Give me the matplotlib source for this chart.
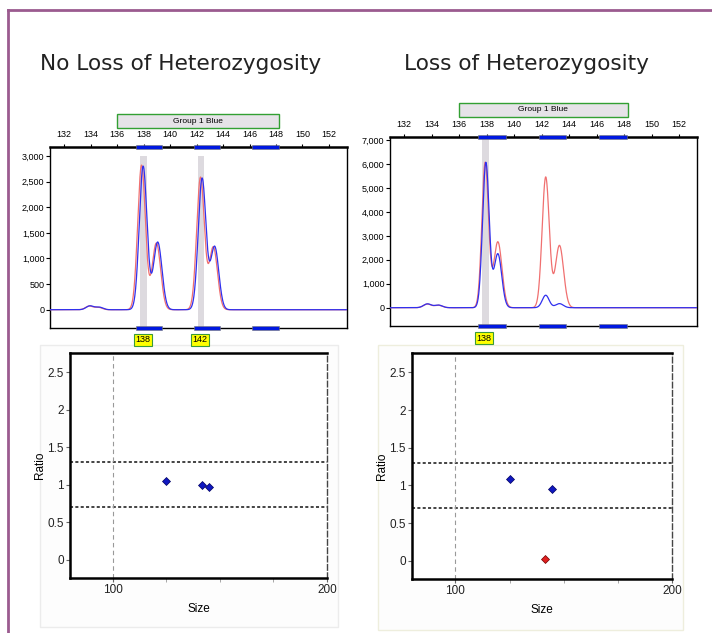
import numpy as np
import matplotlib
matplotlib.use("Agg")
import matplotlib.pyplot as plt
import matplotlib.transforms as mtransforms
from matplotlib.patches import Rectangle
from matplotlib.lines import Line2D

W, H = 712, 633

# ---- data ----
titles = ["No Loss of Heterozygosity", "Loss of Heterozygosity"]
size_ticks = [132, 134, 136, 138, 140, 142, 144, 146, 148, 150, 152]

# peaks: (size, height, width) for each dye trace
left_red_peaks = [(133.9, 70, 0.28), (134.6, 45, 0.28),
                  (137.85, 2820, 0.29), (138.97, 1300, 0.32),
                  (142.3, 2580, 0.29), (143.27, 1220, 0.31)]
left_blue_peaks = [(133.95, 75, 0.28), (134.65, 50, 0.28),
                   (137.97, 2800, 0.29), (139.07, 1320, 0.32),
                   (142.42, 2560, 0.29), (143.37, 1230, 0.31)]
right_red_peaks = [(133.7, 150, 0.28), (134.5, 100, 0.28),
                   (137.9, 6050, 0.24), (138.82, 2750, 0.3),
                   (142.3, 5450, 0.26), (143.3, 2600, 0.3)]
right_blue_peaks = [(133.7, 160, 0.28), (134.5, 110, 0.28),
                    (137.95, 6050, 0.24), (138.82, 2250, 0.28),
                    (142.3, 520, 0.25), (143.3, 170, 0.28)]

left_yticks = [0, 500, 1000, 1500, 2000, 2500, 3000]
left_yticklabels = ["0", "500", "1,000", "1,500", "2,000", "2,500", "3,000"]
right_yticks = [0, 1000, 2000, 3000, 4000, 5000, 6000, 7000]
right_yticklabels = ["0", "1,000", "2,000", "3,000", "4,000", "5,000", "6,000", "7,000"]

bins = [(137.4, 139.4), (141.8, 143.8), (146.2, 148.2)]
left_called = [137.96, 142.26]
left_called_labels = ["138", "142"]
left_bands = [(137.75, 138.25), (142.1, 142.6)]
right_called = [137.8]
right_called_labels = ["138"]
right_bands = [(137.7, 138.2)]
group_span = (136.0, 148.25)

left_sizes = [125, 141.8, 145]
left_ratios = [1.05, 1.0, 0.97]
right_sizes = [125, 144.7]
right_ratios = [1.09, 0.95]
right_loh_sizes = [141.6]
right_loh_ratios = [0.02]
ratio_ticks = [0, 0.5, 1, 1.5, 2, 2.5]
ratio_ticklabels = ["0", "0.5", "1", "1.5", "2", "2.5"]

NARROW = ["Liberation Sans Narrow", "Liberation Sans", "DejaVu Sans"]

fig = plt.figure(figsize=(W / 100, H / 100), dpi=100)


def box(x0, y0, x1, y1):
    return [x0 / W, 1 - y1 / H, (x1 - x0) / W, (y1 - y0) / H]


def trace(peaks, x):
    y = np.zeros_like(x)
    for c, h, s in peaks:
        y += h * np.exp(-0.5 * ((x - c) / s) ** 2)
    return y


# figure border and panel backgrounds
fig.add_artist(Line2D([8 / W, 1], [1 - 10 / H, 1 - 10 / H], color="#9b5b8f", lw=2))
fig.add_artist(Line2D([8 / W, 8 / W], [1 - 10 / H, 0], color="#9b5b8f", lw=2))
for x0, y0, x1, y1, ec in [(40, 345, 338, 627, "#ececec"), (378, 345, 683, 630, "#eeeedd")]:
    b = box(x0, y0, x1, y1)
    fig.add_artist(Rectangle((b[0], b[1]), b[2], b[3], transform=fig.transFigure,
                             facecolor="#fdfdfd", edgecolor=ec, lw=1, zorder=-5))

fig.text(181 / W, 1 - 64 / H, titles[0], ha="center", va="center", fontsize=15.6,
         family="DejaVu Sans", color="#222222")
fig.text(526 / W, 1 - 64 / H, titles[1], ha="center", va="center", fontsize=15.6,
         family="DejaVu Sans", color="#222222")


def electro(rect, xlim, ylim, red, blue, yt, ytl, bands, band_top, called, called_lbl):
    ax = fig.add_axes(rect)
    x = np.linspace(xlim[0], xlim[1], 1500)
    ax.plot(x, trace(red, x), color="#f07070", lw=0.9, zorder=3)
    ax.plot(x, trace(blue, x), color="#3030ee", lw=0.9, zorder=4)
    for a, b in bands:
        ax.axvspan(a, b, ymin=0, ymax=band_top, color="#dddadf", lw=0, zorder=1)
    ax.set_xlim(*xlim)
    ax.set_ylim(*ylim)
    ax.xaxis.tick_top()
    ax.set_xticks(size_ticks)
    ax.set_xticklabels([str(t) for t in size_ticks])
    ax.set_yticks(yt)
    ax.set_yticklabels(ytl)
    ax.tick_params(axis="x", length=2, pad=4, labelsize=6.5, top=True)
    ax.tick_params(axis="y", length=3, pad=1, labelsize=6.5)
    for lbl in ax.get_xticklabels() + ax.get_yticklabels():
        lbl.set_family(NARROW)
    for sp in ax.spines.values():
        sp.set_linewidth(1.0)
    ax.spines["top"].set_linewidth(1.8)
    trans = mtransforms.blended_transform_factory(ax.transData, ax.transAxes)
    for a, b in bins:
        for yy in (0.0, 1.0):
            ax.add_patch(Rectangle((a, yy - 0.012), b - a, 0.024, transform=trans,
                                   facecolor="#0018e0", edgecolor="#777777", lw=0.4,
                                   clip_on=False, zorder=6))
    ax.add_patch(Rectangle((group_span[0], 1.105), group_span[1] - group_span[0], 0.077,
                           transform=trans, facecolor="#e6e3e8", edgecolor="#33a033",
                           lw=1, clip_on=False))
    ax.text(sum(group_span) / 2, 1.143, "Group 1 Blue", transform=trans, ha="center",
            va="center", fontsize=6, family=NARROW)
    for c, t in zip(called, called_lbl):
        ax.text(c, -0.065, t, transform=trans, ha="center", va="center", fontsize=6.5,
                family=NARROW,
                bbox=dict(boxstyle="square,pad=0.15", facecolor="#ffff00",
                          edgecolor="#3a9a3a", lw=0.8))
    return ax


electro(box(50, 147, 347, 328), (130.94, 153.36), (-357, 3176),
        left_red_peaks, left_blue_peaks, left_yticks, left_yticklabels,
        left_bands, 0.95, left_called, left_called_labels)
electro(box(390, 137, 697, 326), (130.98, 153.3), (-764, 7125),
        right_red_peaks, right_blue_peaks, right_yticks, right_yticklabels,
        right_bands, 1.0, right_called, right_called_labels)


def ratio_plot(rect, sizes, ratios, loh_sizes, loh_ratios):
    ax = fig.add_axes(rect)
    ax.set_facecolor("white")
    ax.set_xlim(80, 200)
    ax.set_ylim(-0.24, 2.757)
    ax.axhline(1.3, color="#111111", ls=(0, (2, 1.5)), lw=1.1)
    ax.axhline(0.7, color="#111111", ls=(0, (2, 1.5)), lw=1.1)
    ax.axvline(100, color="#999999", ls=(0, (4, 3)), lw=0.8)
    ax.plot(sizes, ratios, ls="none", marker="D", ms=4.5, color="#1018c0",
            mec="#000060", mew=0.5)
    if loh_sizes:
        ax.plot(loh_sizes, loh_ratios, ls="none", marker="D", ms=4.5, color="#e02020",
                mec="#700000", mew=0.5)
    ax.set_xticks([100, 200])
    ax.set_xticklabels(["100", "200"])
    ax.set_xticks([125, 150, 175], minor=True)
    ax.set_yticks(ratio_ticks)
    ax.set_yticklabels(ratio_ticklabels)
    ax.tick_params(axis="both", length=3, pad=1.5, labelsize=8.5, color="#666666",
                   labelcolor="#222222")
    ax.tick_params(axis="x", which="minor", length=3, color="#999999")
    for lbl in ax.get_xticklabels() + ax.get_yticklabels():
        lbl.set_family(NARROW)
    ax.set_xlabel("Size", fontsize=8.5, family=NARROW, labelpad=5)
    ax.set_ylabel("Ratio", fontsize=8.5, family=NARROW, labelpad=1)
    for s in ("top", "left", "bottom"):
        ax.spines[s].set_linewidth(1.8)
    ax.spines["right"].set_linestyle((0, (4, 2)))
    ax.spines["right"].set_linewidth(1.0)
    ax.spines["right"].set_color("#444444")
    return ax


ratio_plot(box(70, 353, 327, 578), left_sizes, left_ratios, [], [])
ratio_plot(box(412, 353, 672, 579), right_sizes, right_ratios, right_loh_sizes, right_loh_ratios)

fig.savefig("out.png", dpi=100)
